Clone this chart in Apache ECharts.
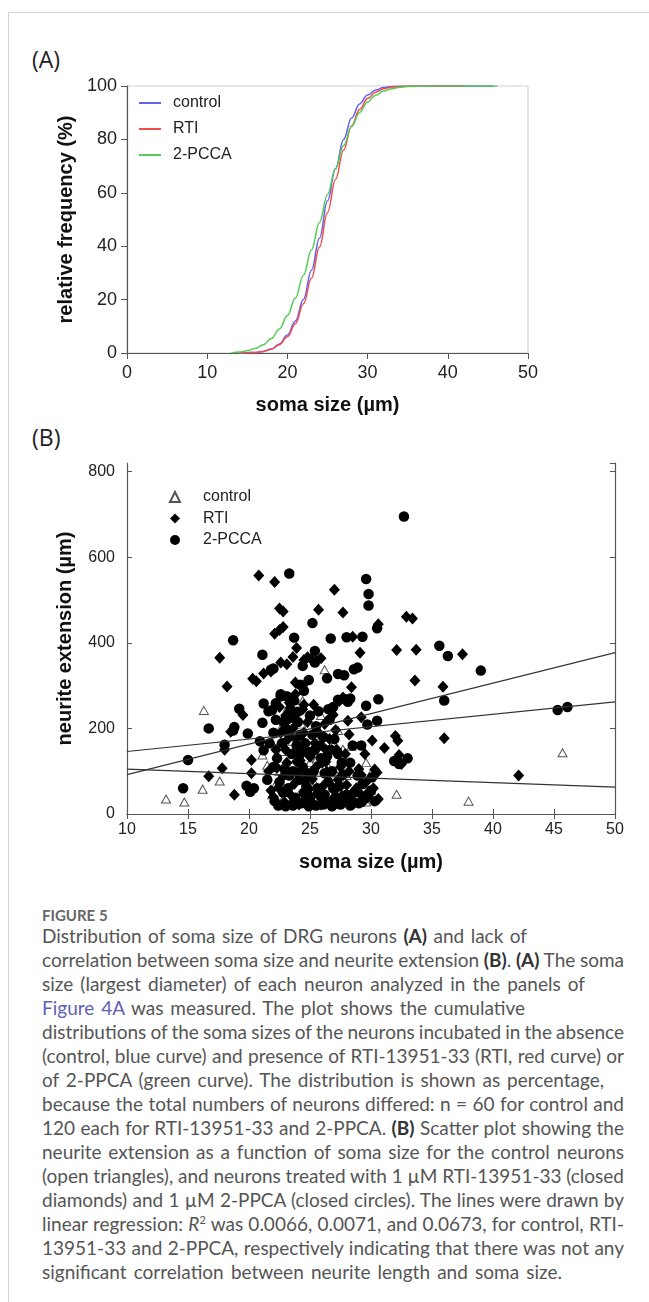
<!DOCTYPE html>
<html>
<head>
<meta charset="utf-8">
<script src="https://cdn.jsdelivr.net/npm/echarts@6/dist/echarts.min.js"></script>
<style>
  html, body { margin: 0; padding: 0; background: #fff; }
  body { width: 649px; height: 1302px; position: relative; overflow: hidden; }
  #frame { position: absolute; left: 8px; top: 12px; right: 0; bottom: 0;
    border-top: 1px solid #d6d6d6; border-left: 1px solid #d6d6d6; }
  #chart { position: absolute; left: 0; top: 0; width: 649px; height: 900px; }
  .panel { position: absolute; left: 32px; font-family: "Open Sans", sans-serif;
    font-size: 23px; color: #222; line-height: 28px; }
  #caption { position: absolute; left: 42px; top: 907px; width: 600px;
    font-family: Lato, sans-serif; font-size: 19px; color: #555; }
  #caption .fig { font-size: 15px; font-weight: bold; color: #666; line-height: 17px; }
  #caption .ln { line-height: 24px; white-space: nowrap; }
  #caption b { color: #333; }
  #caption .link { color: #5f5fb8; }
</style>
</head>
<body>
<div id="frame"></div>
<div class="panel" style="top:45px">(A)</div>
<div class="panel" style="top:423px">(B)</div>
<div id="chart"></div>
<div id="caption">
  <div class="fig">FIGURE 5</div>
  <div class="ln" data-end="527">Distribution of soma size of DRG neurons <b>(A)</b> and lack of</div>
  <div class="ln" data-end="624">correlation between soma size and neurite extension <b>(B)</b>. <b>(A)</b> The soma</div>
  <div class="ln" data-end="585">size (largest diameter) of each neuron analyzed in the panels of</div>
  <div class="ln" data-end="525"><span class="link">Figure 4A</span> was measured. The plot shows the cumulative</div>
  <div class="ln" data-end="624">distributions of the soma sizes of the neurons incubated in the absence</div>
  <div class="ln" data-end="624">(control, blue curve) and presence of RTI-13951-33 (RTI, red curve) or</div>
  <div class="ln" data-end="604">of 2-PPCA (green curve). The distribution is shown as percentage,</div>
  <div class="ln" data-end="624">because the total numbers of neurons differed: n = 60 for control and</div>
  <div class="ln" data-end="624">120 each for RTI-13951-33 and 2-PPCA. <b>(B)</b> Scatter plot showing the</div>
  <div class="ln" data-end="624">neurite extension as a function of soma size for the control neurons</div>
  <div class="ln" data-end="624">(open triangles), and neurons treated with 1 µM RTI-13951-33 (closed</div>
  <div class="ln" data-end="624">diamonds) and 1 µM 2-PPCA (closed circles). The lines were drawn by</div>
  <div class="ln" data-end="624">linear regression: <i>R</i><sup style="font-size:11px;line-height:0">2</sup> was 0.0066, 0.0071, and 0.0673, for control, RTI-</div>
  <div class="ln" data-end="624">13951-33 and 2-PPCA, respectively indicating that there was not any</div>
  <div class="ln" data-end="562">significant correlation between neurite length and soma size.</div>
</div>
<script>
// ---- panel A: cumulative distributions of soma size (%)
const sizeControl = [14, 15, 16, 17, 18, 19, 20, 21, 22, 23, 24, 25, 26, 27, 28, 29, 30, 31, 32, 33, 34, 35, 45.7];
const freqControl = [0, 0.1, 0.2, 0.6, 1.5, 3.4, 6.7, 12, 20, 31, 43, 57, 69, 80, 88, 93.3, 96.6, 98.5, 99.4, 99.8, 99.9, 100, 100];
const sizeRTI = [14, 15, 16, 17, 18, 19, 20, 21, 22, 23, 24, 25, 26, 27, 28, 29, 30, 31, 32, 33, 34, 35, 36, 42.1];
const freqRTI = [0, 0.1, 0.2, 0.6, 1.4, 3.1, 6.1, 11, 18.4, 28, 39.7, 52.6, 65, 76, 85, 91.2, 95.3, 97.7, 99, 99.6, 99.85, 99.95, 100, 100];
const sizePCCA = [13, 14, 15, 16, 17, 18, 19, 20, 21, 22, 23, 24, 25, 26, 27, 28, 29, 30, 31, 32, 33, 34, 35, 36, 38, 46.2];
const freqPCCA = [0, 0.4, 0.8, 1.7, 3.1, 5.4, 9, 14, 20.6, 29.1, 38.6, 48.9, 59.4, 69.1, 77.7, 84.8, 90.1, 94, 96.5, 98.1, 99, 99.5, 99.8, 99.9, 100, 100];

// ---- panel B: [soma size, neurite extension]
const controlPts = [
  [13.2, 35], [14.7, 28], [16.3, 242], [16.2, 58], [17.6, 77], [21.1, 138], [21.5, 114], [22.7, 146],
  [26.2, 337], [26.0, 184], [26.1, 161], [27.7, 151], [28.4, 158], [29.6, 120], [27.2, 36], [28.2, 28],
  [29.6, 28], [30.3, 40], [32.1, 46], [38.0, 30], [45.7, 143], [25.4, 124], [23.4, 170],
  [22.2, 70], [23.0, 55], [23.6, 115], [24.1, 45], [24.6, 95], [25.1, 160], [25.6, 130], [26.0, 48],
  [26.6, 80], [27.0, 100], [24.3, 210], [25.4, 70], [22.8, 35], [24.9, 32], [26.4, 35], [27.6, 75],
  [28.7, 45], [25.0, 120], [23.9, 145], [22.5, 100], [28.0, 90], [26.9, 160], [24.4, 265], [25.9, 230],
  [21.9, 45], [27.3, 195], [23.2, 250], [29.2, 70], [30.0, 95], [24.0, 80], [26.5, 110], [23.5, 30],
  [25.8, 25], [22.6, 200], [27.9, 120], [24.7, 150], [28.9, 30]
];
const rtiPts = [
  [20.8, 557], [22.1, 542], [27.0, 524], [22.5, 480], [22.8, 473], [25.7, 477], [27.7, 471], [22.1, 421],
  [22.5, 430], [22.8, 437], [28.5, 414], [32.9, 461], [33.4, 457], [30.6, 443], [17.6, 365], [18.2, 298],
  [19.5, 231], [18.5, 192], [18.0, 150], [16.7, 88], [17.8, 107], [18.8, 45], [20.2, 95], [20.2, 126],
  [20.3, 316], [20.6, 310], [21.2, 328], [21.8, 333], [22.6, 354], [23.1, 350], [23.6, 367], [23.9, 388],
  [24.5, 360], [24.8, 366], [25.1, 362], [25.5, 358], [25.9, 364], [29.1, 377], [28.4, 296], [23.8, 307],
  [24.4, 300], [24.5, 255], [25.3, 255], [27.4, 264], [27.7, 272], [29.2, 226], [32.1, 383], [33.7, 384],
  [37.5, 373], [33.6, 312], [35.9, 297], [36.0, 177], [42.1, 90], [32.0, 182], [32.2, 171], [31.1, 154],
  [32.3, 138], [30.1, 172], [30.5, 97], [30.3, 104], [32.5, 117], [26.9, 232], [28.1, 218], [28.2, 186],
  [27.1, 196], [25.0, 134], [29.2, 91],
  [22.0, 40], [22.4, 62], [22.8, 88], [23.1, 120], [23.4, 45], [23.7, 70], [24.0, 95], [24.3, 150],
  [24.6, 35], [24.9, 58], [25.2, 82], [25.5, 110], [25.8, 40], [26.1, 66], [26.4, 98], [26.7, 30],
  [27.0, 55], [27.3, 80], [27.6, 42], [28.0, 68], [28.4, 35], [28.8, 60], [29.2, 45], [29.6, 75],
  [22.2, 150], [22.6, 190], [23.0, 230], [23.3, 260], [23.6, 200], [23.9, 175], [24.2, 125], [24.5, 190],
  [24.8, 215], [25.1, 140], [25.4, 165], [25.7, 190], [26.0, 120], [26.3, 150], [26.6, 175], [22.9, 28],
  [23.5, 25], [24.1, 22], [24.7, 28], [25.3, 24], [25.9, 22], [26.5, 28], [27.1, 24], [27.8, 30],
  [28.6, 25], [29.4, 30], [21.8, 55], [21.6, 100], [23.2, 175], [24.4, 245], [22.5, 250], [23.8, 280],
  [26.2, 210], [27.5, 110], [28.2, 100], [27.9, 140], [29.0, 105], [29.5, 140], [30.2, 60], [30.6, 35],
  [22.3, 108], [23.9, 122], [24.6, 78], [25.6, 48], [26.3, 122], [27.2, 150], [23.0, 150], [22.7, 215]
];
const pccaPts = [
  [23.3, 562], [29.6, 549], [29.8, 514], [29.8, 487], [25.2, 446], [18.7, 406], [23.7, 412], [26.7, 410],
  [28.0, 413], [29.3, 414], [32.7, 695], [30.5, 434], [16.7, 200], [19.2, 246], [18.8, 203], [18.7, 195],
  [19.9, 188], [18.0, 162], [15.0, 126], [14.6, 60], [19.8, 66], [20.1, 52], [20.4, 60], [21.1, 372],
  [21.8, 337], [22.0, 340], [21.2, 258], [21.6, 240], [21.1, 213], [20.9, 170], [21.2, 149], [24.9, 313],
  [24.2, 302], [24.4, 346], [25.4, 381], [25.4, 354], [26.4, 317], [27.3, 327], [27.8, 324], [28.9, 342],
  [28.6, 338], [28.3, 270], [27.3, 267], [22.6, 280], [23.1, 275], [22.2, 259], [21.9, 243], [23.1, 220],
  [24.0, 239], [24.5, 288], [26.5, 245], [26.9, 250], [27.9, 268], [28.1, 262], [30.6, 268], [29.6, 253],
  [29.7, 209], [30.5, 218], [35.6, 393], [36.3, 369], [39.0, 335], [36.0, 265], [45.3, 243], [46.1, 250],
  [33.0, 130], [31.9, 124], [32.3, 117], [30.1, 86], [29.8, 48],
  [22.1, 30], [22.5, 75], [22.9, 105], [23.2, 60], [23.5, 140], [23.8, 38], [24.1, 80], [24.4, 110],
  [24.7, 65], [25.0, 40], [25.3, 100], [25.6, 60], [25.9, 130], [26.2, 45], [26.5, 75], [26.8, 100],
  [27.1, 40], [27.4, 65], [27.7, 92], [28.0, 45], [28.3, 120], [28.6, 50], [28.9, 90], [29.3, 70],
  [29.7, 40], [30.0, 55], [22.3, 130], [22.7, 165], [23.0, 200], [23.3, 185], [23.6, 225], [23.9, 160],
  [24.2, 185], [24.6, 165], [24.9, 145], [25.2, 185], [25.5, 205], [25.8, 160], [26.1, 180], [26.4, 135],
  [26.7, 150], [27.0, 175], [27.3, 140], [22.2, 220], [22.6, 275], [23.4, 245], [23.7, 265], [24.0, 215],
  [22.4, 20], [23.0, 18], [23.6, 20], [24.3, 25], [24.9, 18], [25.5, 20], [26.1, 22], [26.8, 18],
  [27.5, 22], [28.3, 20], [29.0, 25], [30.3, 30], [21.5, 80], [21.7, 165], [22.0, 190], [25.0, 230],
  [25.7, 240], [26.6, 220], [28.5, 160], [29.2, 160], [24.5, 50], [23.3, 90], [26.9, 60],
  [22.8, 50], [24.2, 140], [25.4, 150], [26.2, 95], [27.6, 120], [23.6, 100], [24.8, 95], [22.0, 110]
];

// regression lines, ends at soma 10 and 50
const fitControl = [[10, 105], [50, 63]];
const fitRTI = [[10, 146], [50, 262]];
const fitPCCA = [[10, 92], [50, 377]];

const zip = (xs, ys) => xs.map((x, i) => [x, ys[i]]);

const axisColor = '#555';
const labelFont = 'Liberation Sans';

const chart = echarts.init(document.getElementById('chart'));

const option = {
  animation: false,
  textStyle: { fontFamily: labelFont },
  grid: [
    { left: 127, top: 86, width: 401, height: 267, show: true, borderColor: '#cfcfcf', borderWidth: 1 },
    { left: 127, top: 463, width: 488, height: 351 }
  ],
  legend: [
    {
      data: ['control', 'RTI', '2-PCCA'],
      orient: 'vertical', left: 134, top: 90,
      icon: 'rect', itemWidth: 22, itemHeight: 2, itemGap: 10,
      textStyle: { fontSize: 16, lineHeight: 16, color: '#222', fontFamily: labelFont, padding: [0, 0, 0, 7] }
    },
    {
      data: ['B control', 'B RTI', 'B 2-PCCA'],
      orient: 'vertical', left: 164, top: 484,
      itemWidth: 10, itemHeight: 10, itemGap: 5.5,
      formatter: (n) => n.slice(2),
      textStyle: { fontSize: 16, lineHeight: 16, color: '#222', fontFamily: labelFont, padding: [0, 0, 0, 18] }
    }
  ],
  xAxis: [
    {
      gridIndex: 0, type: 'value', min: 0, max: 50, interval: 10,
      axisLine: { lineStyle: { color: axisColor, width: 1.2 } },
      axisTick: { length: 6, lineStyle: { color: axisColor } },
      axisLabel: { fontSize: 18, color: '#222', margin: 11 },
      splitLine: { show: false },
      name: 'soma size (µm)', nameLocation: 'middle', nameGap: 42,
      nameTextStyle: { fontSize: 20, fontWeight: 'bold', color: '#111' }
    },
    {
      gridIndex: 1, type: 'value', min: 10, max: 50, interval: 5,
      axisLine: { lineStyle: { color: axisColor, width: 1.2 } },
      axisTick: { inside: true, length: 5, lineStyle: { color: axisColor } },
      axisLabel: { fontSize: 16, color: '#222', margin: 8 },
      splitLine: { show: false },
      name: 'soma size (µm)', nameLocation: 'middle', nameGap: 38,
      nameTextStyle: { fontSize: 20, fontWeight: 'bold', color: '#111' }
    },
    {
      gridIndex: 1, type: 'value', position: 'top', min: 10, max: 50, interval: 5,
      axisLine: { lineStyle: { color: axisColor, width: 1.2 } },
      axisTick: { inside: true, length: 5, lineStyle: { color: axisColor } },
      axisLabel: { show: false },
      splitLine: { show: false }
    }
  ],
  yAxis: [
    {
      gridIndex: 0, type: 'value', min: 0, max: 100, interval: 20,
      axisLine: { show: true, lineStyle: { color: axisColor, width: 1.2 } },
      axisTick: { show: true, length: 6, lineStyle: { color: axisColor } },
      axisLabel: { fontSize: 18, color: '#222', margin: 10 },
      splitLine: { show: false },
      name: 'relative frequency (%)', nameLocation: 'middle', nameGap: 50,
      nameTextStyle: { fontSize: 20, fontWeight: 'bold', color: '#111' }
    },
    {
      gridIndex: 1, type: 'value', min: 0, max: 820, interval: 200,
      axisLine: { show: true, lineStyle: { color: axisColor, width: 1.2 } },
      axisTick: { show: true, inside: true, length: 5, lineStyle: { color: axisColor } },
      axisLabel: { fontSize: 16, color: '#222', margin: 12, showMaxLabel: false },
      splitLine: { show: false },
      name: 'neurite extension (µm)', nameLocation: 'middle', nameGap: 52,
      nameTextStyle: { fontSize: 20, fontWeight: 'bold', color: '#111' }
    },
    {
      gridIndex: 1, type: 'value', position: 'right', min: 0, max: 820, interval: 200,
      axisLine: { show: true, lineStyle: { color: axisColor, width: 1.2 } },
      axisTick: { show: true, inside: true, length: 5, lineStyle: { color: axisColor } },
      axisLabel: { show: false },
      splitLine: { show: false }
    }
  ],
  series: [
    // panel A
    { name: 'control', type: 'line', xAxisIndex: 0, yAxisIndex: 0, data: zip(sizeControl, freqControl),
      smooth: 0.4, smoothMonotone: 'x', symbol: 'none', lineStyle: { color: '#6262f2', width: 1.5 }, itemStyle: { color: '#6262f2' } },
    { name: 'RTI', type: 'line', xAxisIndex: 0, yAxisIndex: 0, data: zip(sizeRTI, freqRTI),
      smooth: 0.4, smoothMonotone: 'x', symbol: 'none', lineStyle: { color: '#f24c4c', width: 1.5 }, itemStyle: { color: '#f24c4c' } },
    { name: '2-PCCA', type: 'line', xAxisIndex: 0, yAxisIndex: 0, data: zip(sizePCCA, freqPCCA),
      smooth: 0.4, smoothMonotone: 'x', symbol: 'none', lineStyle: { color: '#52cc52', width: 1.5 }, itemStyle: { color: '#52cc52' } },

    // panel B
    { name: 'B control', type: 'scatter', xAxisIndex: 1, yAxisIndex: 1, data: controlPts,
      symbol: 'triangle', symbolSize: [9, 8],
      itemStyle: { color: '#fff', borderColor: '#555', borderWidth: 1, opacity: 1 } },
    { name: 'B RTI', type: 'scatter', xAxisIndex: 1, yAxisIndex: 1, data: rtiPts,
      symbol: 'diamond', symbolSize: [11, 12], itemStyle: { color: '#000', opacity: 1 } },
    { name: 'B 2-PCCA', type: 'scatter', xAxisIndex: 1, yAxisIndex: 1, data: pccaPts,
      symbol: 'circle', symbolSize: 10.5, itemStyle: { color: '#000', opacity: 1 } },
    { type: 'line', xAxisIndex: 1, yAxisIndex: 1, data: fitControl, symbol: 'none', silent: true,
      lineStyle: { color: '#333', width: 1.2 } },
    { type: 'line', xAxisIndex: 1, yAxisIndex: 1, data: fitRTI, symbol: 'none', silent: true,
      lineStyle: { color: '#333', width: 1.2 } },
    { type: 'line', xAxisIndex: 1, yAxisIndex: 1, data: fitPCCA, symbol: 'none', silent: true,
      lineStyle: { color: '#333', width: 1.2 } }
  ]
};

chart.setOption(option);

// adjust word spacing so each caption line ends where it does in the figure
document.querySelectorAll('#caption .ln').forEach((el) => {
  const span = document.createElement('span');
  span.innerHTML = el.innerHTML;
  el.innerHTML = '';
  el.appendChild(span);
  const target = Number(el.dataset.end) - 42;
  const w = span.getBoundingClientRect().width;
  const spaces = (el.textContent.match(/ /g) || []).length;
  if (spaces) el.style.wordSpacing = ((target - w) / spaces) + 'px';
});
</script>
</body>
</html>
